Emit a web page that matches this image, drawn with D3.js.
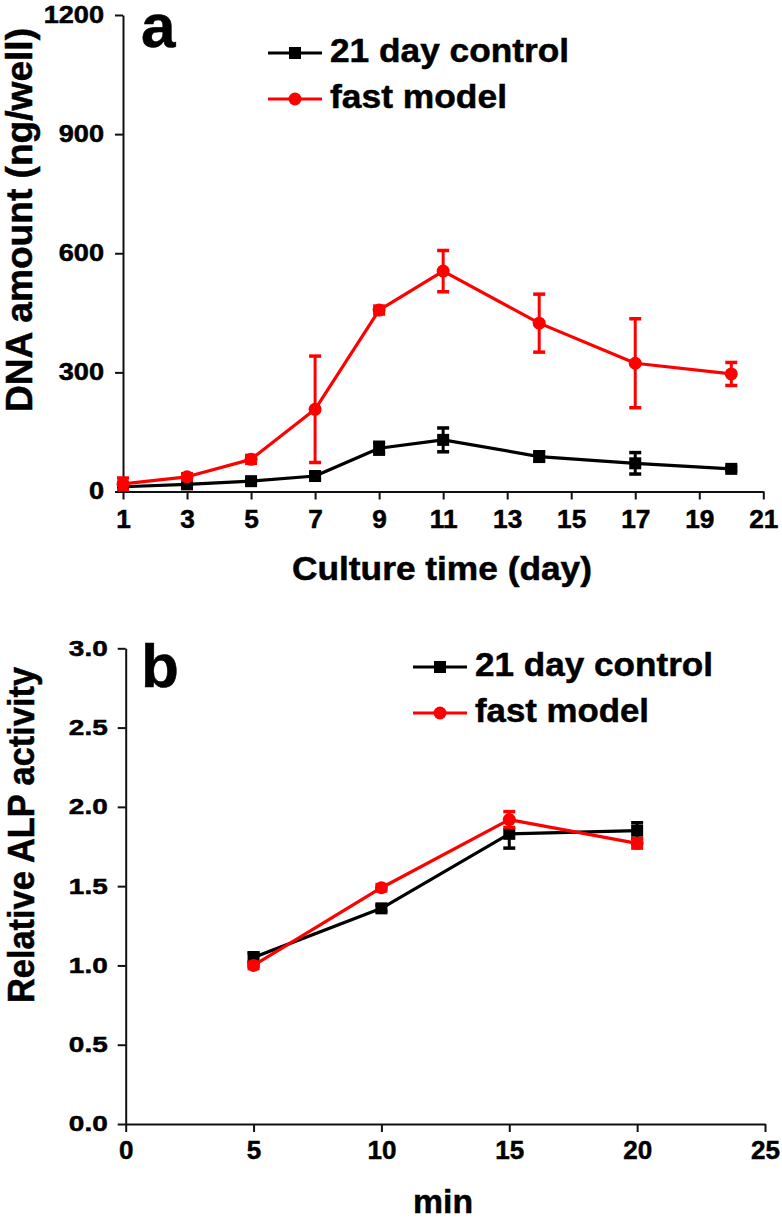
<!DOCTYPE html>
<html>
<head>
<meta charset="utf-8">
<script src="https://cdn.jsdelivr.net/npm/d3@7"></script>
<style>
  html, body { margin: 0; padding: 0; background: #fff; }
  svg { display: block; }
  text { font-family: "Liberation Sans", Arial, sans-serif; font-weight: bold; fill: #000; stroke: #000; stroke-width: 0.5px; }
</style>
</head>
<body>
<svg id="chart" width="782" height="1219"></svg>
<script>
// ---------- data ----------
const seriesNames = ["21 day control", "fast model"];
const seriesColors = ["#000000", "#ff0000"];

// Panel a: DNA amount (ng/well) vs culture time (day)
const daysA = [1, 3, 5, 7, 9, 11, 14, 17, 20];
const controlA = [12, 18, 26, 39, 109, 130, 88, 71, 57];
const controlAErr = [5, 5, 6, 8, 15, 30, 12, 27, 5];
const fastA = [19, 37, 81, 207, 457, 555, 424, 323, 296];
const fastAErr = [15, 8, 10, 134, 10, 52, 73, 112, 29];
const xTicksA = [1, 3, 5, 7, 9, 11, 13, 15, 17, 19, 21];
const yTicksA = [0, 300, 600, 900, 1200];

// Panel b: Relative ALP activity vs min
const minB = [5, 10, 15, 20];
const controlB = [1.05, 1.36, 1.83, 1.85];
const controlBErr = [0.03, 0.02, 0.09, 0.05];
const fastB = [1.00, 1.49, 1.92, 1.77];
const fastBErr = [0.02, 0.02, 0.05, 0.03];
const xTicksB = [0, 5, 10, 15, 20, 25];
const yTicksB = [0, 0.5, 1.0, 1.5, 2.0, 2.5, 3.0];

// ---------- drawing ----------
const svg = d3.select("#chart");

function styleAxis(g, fontSize, sx, isLeft, offset) {
  g.select(".domain").attr("stroke", "#111").attr("stroke-width", 2);
  g.selectAll(".tick line").attr("stroke", "#111").attr("stroke-width", 2);
  g.selectAll(".tick text")
    .style("font-size", fontSize + "px")
    .style("font-weight", "bold")
    .style("font-family", '"Liberation Sans", Arial, sans-serif')
    .attr("fill", "#000")
    .attr("transform", `scale(${sx},1)`);
  if (isLeft) g.selectAll(".tick text").attr("x", -offset / sx);
}

function drawPanel(cfg) {
  const x = d3.scaleLinear().domain(cfg.xDomain).range(cfg.xRange);
  const y = d3.scaleLinear().domain(cfg.yDomain).range(cfg.yRange);
  const g = svg.append("g");

  // axes
  const xAxis = d3.axisBottom(x).tickValues(cfg.xTicks).tickSize(8).tickPadding(cfg.xPad).tickSizeOuter(0)
    .tickFormat(cfg.xFmt);
  const yAxis = d3.axisLeft(y).tickValues(cfg.yTicks).tickSize(8).tickPadding(cfg.yPad).tickSizeOuter(0)
    .tickFormat(cfg.yFmt);
  const gx = g.append("g").attr("transform", `translate(0,${cfg.yRange[0]})`).call(xAxis);
  styleAxis(gx, cfg.xFont, cfg.xSx, false, 0);
  const gy = g.append("g").attr("transform", `translate(${cfg.xRange[0]},0)`).call(yAxis);
  styleAxis(gy, cfg.yFont, cfg.ySx, true, 8 + cfg.yPad);

  // series
  cfg.series.forEach((s, si) => {
    const color = seriesColors[si];
    const pts = cfg.xs.map((d, i) => ({ x: d, y: s.vals[i], e: s.errs[i] }));
    const sg = g.append("g");
    // error bars
    pts.forEach(p => {
      if (p.e <= 0) return;
      const cx = x(p.x), y1 = y(p.y + p.e), y2 = y(p.y - p.e);
      sg.append("line").attr("x1", cx).attr("x2", cx).attr("y1", y1).attr("y2", y2)
        .attr("stroke", color).attr("stroke-width", 3);
      [y1, y2].forEach(yy => sg.append("line")
        .attr("x1", cx - 6).attr("x2", cx + 6).attr("y1", yy).attr("y2", yy)
        .attr("stroke", color).attr("stroke-width", 3.5));
    });
    // line
    sg.append("path").datum(pts)
      .attr("d", d3.line().x(p => x(p.x)).y(p => y(p.y)))
      .attr("fill", "none").attr("stroke", color).attr("stroke-width", 3.2)
      .attr("stroke-linejoin", "round");
    // markers
    pts.forEach(p => drawMarker(sg, si, x(p.x), y(p.y), color));
  });

  // panel letter
  g.append("text").attr("x", cfg.letterX).attr("y", cfg.letterY)
    .style("font-size", "62px").text(cfg.letter);

  // legend
  seriesNames.forEach((name, i) => {
    const ly = cfg.legY[i];
    g.append("line").attr("x1", cfg.legX).attr("x2", cfg.legX + 54).attr("y1", ly).attr("y2", ly)
      .attr("stroke", seriesColors[i]).attr("stroke-width", 3.2);
    drawMarker(g, i, cfg.legX + 27, ly, seriesColors[i]);
    g.append("text").attr("x", cfg.legX + 62).attr("y", ly + 8.5)
      .style("font-size", "34px")
      .attr("textLength", cfg.legW[i]).attr("lengthAdjust", "spacingAndGlyphs")
      .text(name);
  });

  // axis titles
  g.append("text").attr("x", cfg.xTitleX).attr("y", cfg.xTitleY)
    .attr("text-anchor", "middle").style("font-size", cfg.xTitleFont + "px")
    .attr("textLength", cfg.xTitleW).attr("lengthAdjust", "spacingAndGlyphs")
    .text(cfg.xTitle);
  g.append("text")
    .attr("transform", `translate(${cfg.yTitleX},${cfg.yTitleY}) rotate(-90)`)
    .attr("text-anchor", "middle").style("font-size", cfg.yTitleFont + "px")
    .attr("textLength", cfg.yTitleW).attr("lengthAdjust", "spacingAndGlyphs")
    .text(cfg.yTitle);
}

function drawMarker(g, si, cx, cy, color) {
  if (si === 0) {
    g.append("rect").attr("x", cx - 6).attr("y", cy - 6).attr("width", 12).attr("height", 12)
      .attr("fill", color);
  } else {
    g.append("circle").attr("cx", cx).attr("cy", cy).attr("r", 6.5).attr("fill", color);
  }
}

drawPanel({
  xDomain: [1, 21], xRange: [123, 763.3],
  yDomain: [0, 1200], yRange: [491.5, 15],
  xTicks: xTicksA, yTicks: yTicksA,
  xFmt: d3.format("d"), yFmt: d3.format("d"),
  xPad: 10.5, yPad: 11, xFont: 25, xSx: 1.05, yFont: 23, ySx: 1.18,
  xs: daysA,
  series: [{ vals: controlA, errs: controlAErr }, { vals: fastA, errs: fastAErr }],
  letter: "a", letterX: 141, letterY: 47,
  legX: 268, legY: [53, 99], legW: [239, 177],
  xTitle: "Culture time (day)", xTitleX: 442, xTitleY: 580, xTitleFont: 33, xTitleW: 300,
  yTitle: "DNA amount (ng/well)", yTitleX: 32, yTitleY: 220, yTitleFont: 37, yTitleW: 384
});

drawPanel({
  xDomain: [0, 25], xRange: [125.7, 765],
  yDomain: [0, 3], yRange: [1124, 648.3],
  xTicks: xTicksB, yTicks: yTicksB,
  xFmt: d3.format("d"), yFmt: d3.format(".1f"),
  xPad: 9, yPad: 10, xFont: 26, xSx: 1.0, yFont: 21.5, ySx: 1.3,
  xs: minB,
  series: [{ vals: controlB, errs: controlBErr }, { vals: fastB, errs: fastBErr }],
  letter: "b", letterX: 141, letterY: 687,
  legX: 413, legY: [667, 713], legW: [238, 174],
  xTitle: "min", xTitleX: 443, xTitleY: 1213, xTitleFont: 34, xTitleW: 60,
  yTitle: "Relative ALP activity", yTitleX: 34, yTitleY: 835, yTitleFont: 37, yTitleW: 336
});
</script>
</body>
</html>
